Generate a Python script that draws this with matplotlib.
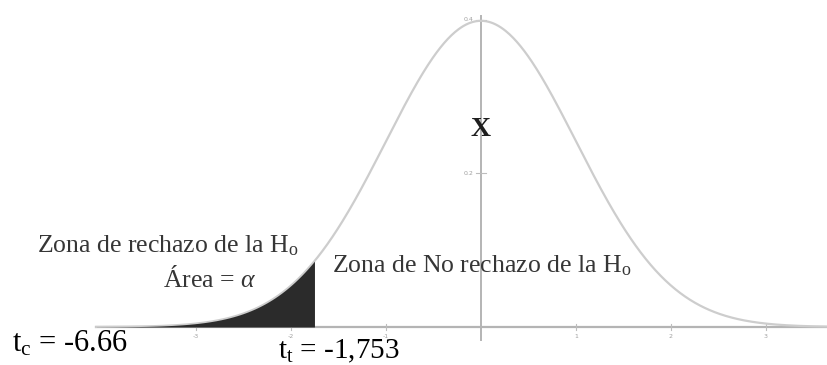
import numpy as np
import matplotlib
matplotlib.use("Agg")
import matplotlib.pyplot as plt

# ---- data ----
mean = 0.0
sd = 1.0
x_tick_values = [-3, -2, -1, 1, 2, 3]
y_tick_values = [0.2, 0.4]
y_tick_labels = ["0.2", "0.4"]
t_tabla = -1.753
t_calc_label = "-6.66"
t_tabla_label = "-1,753"
x_min_curve = -4.05
x_max_curve = 3.75

plt.rcParams["mathtext.fontset"] = "custom"
plt.rcParams["mathtext.rm"] = "Liberation Serif"
plt.rcParams["mathtext.it"] = "Liberation Serif:italic"
plt.rcParams["mathtext.bf"] = "Liberation Serif:bold"

W, H = 828, 365
fig = plt.figure(figsize=(W / 100, H / 100), dpi=100)
ax = fig.add_axes([0, 0, 1, 1])
ax.set_axis_off()

# pixel mapping: x=0 at 481 px, 95 px/unit ; baseline at 327 px, 767.5 px/unit
ax.set_xlim(-481 / 95, (W - 481) / 95)
ax.set_ylim(-(H - 327) / 767.5, 327 / 767.5)

xs = np.linspace(x_min_curve, x_max_curve, 600)
ys = np.exp(-0.5 * ((xs - mean) / sd) ** 2) / (sd * np.sqrt(2 * np.pi))

axis_col = "#b4b4b4"
# x axis
ax.plot([x_min_curve, x_max_curve + 1], [0, 0], color=axis_col, lw=1.6, zorder=2)
# y axis
ax.plot([0, 0], [-0.017, 0.405], color=axis_col, lw=1.4, zorder=2)

# curve
ax.plot(xs, ys, color="#cdcdcd", lw=1.6, zorder=3)

# shaded rejection area
mask = xs <= t_tabla
xf = np.append(xs[mask], t_tabla)
yf = np.append(ys[mask], np.exp(-0.5 * ((t_tabla - mean) / sd) ** 2) / (sd * np.sqrt(2 * np.pi)))
ax.fill_between(xf, 0, yf, color="#2b2b2b", lw=0, zorder=4)

# ticks
for xv in x_tick_values:
    ax.plot([xv, xv], [-0.004, 0.004], color="#bdbdbd", lw=0.8, zorder=2)
    ax.text(xv, -0.0125, str(xv), ha="center", va="center", fontsize=4.5,
            color="#a0a0a0", family="DejaVu Sans")
for yv, lab in zip(y_tick_values, y_tick_labels):
    ax.plot([-0.05, 0.05], [yv, yv], color="#bdbdbd", lw=0.8, zorder=2)
    ax.text(-0.08, yv, lab, ha="right", va="center", fontsize=4.5,
            color="#a0a0a0", family="DejaVu Sans")

def P(x, y):
    return (x / W, 1 - y / H)

serif = "Liberation Serif"
gray_txt = "#363636"

fig.text(*P(481, 129), "X", ha="center", va="center", fontsize=20,
         family=serif, color="#1e1e1e", fontweight="bold")

fig.text(*P(37, 252), r"Zona de rechazo de la H$_\mathregular{o}$", ha="left",
         va="baseline", fontsize=18.5, family=serif, color=gray_txt)
fig.text(*P(163, 287), r"Área = $\mathit{\alpha}$", ha="left",
         va="baseline", fontsize=18.5, family=serif, color=gray_txt)
fig.text(*P(332, 272), r"Zona de No rechazo de la H$_\mathregular{o}$", ha="left",
         va="baseline", fontsize=18.5, family=serif, color=gray_txt)

fig.text(*P(12, 351), r"t$_\mathregular{c}$ = " + t_calc_label, ha="left",
         va="baseline", fontsize=22, family=serif, color="black")
fig.text(*P(278, 358), r"t$_\mathregular{t}$ = " + t_tabla_label, ha="left",
         va="baseline", fontsize=21, family=serif, color="black")

fig.savefig("out.png", dpi=100)
